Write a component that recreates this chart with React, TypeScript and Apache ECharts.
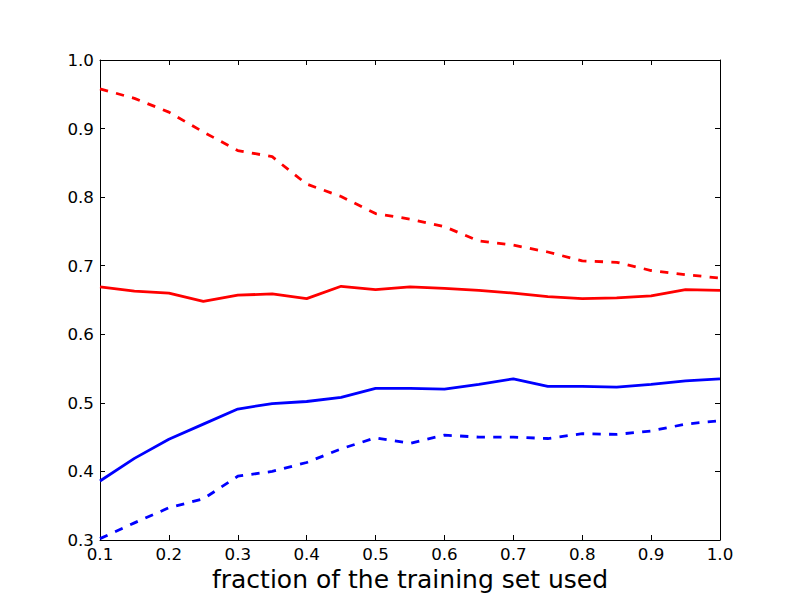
import React, { useEffect, useRef } from "react";
import * as echarts from "echarts";

const fractions = [0.1, 0.15, 0.2, 0.25, 0.3, 0.35, 0.4, 0.45, 0.5, 0.55, 0.6, 0.65, 0.7, 0.75, 0.8, 0.85, 0.9, 0.95, 1.0];
const redDashed = [0.958, 0.944, 0.924, 0.895, 0.868, 0.859, 0.819, 0.801, 0.776, 0.768, 0.757, 0.736, 0.730, 0.720, 0.707, 0.705, 0.693, 0.687, 0.682];
const redSolid = [0.669, 0.663, 0.660, 0.648, 0.657, 0.659, 0.652, 0.670, 0.665, 0.669, 0.667, 0.664, 0.660, 0.655, 0.652, 0.653, 0.656, 0.665, 0.664];
const blueSolid = [0.386, 0.419, 0.447, 0.469, 0.491, 0.499, 0.502, 0.508, 0.521, 0.521, 0.520, 0.527, 0.535, 0.524, 0.524, 0.523, 0.527, 0.532, 0.535];
const blueDashed = [0.302, 0.325, 0.347, 0.360, 0.393, 0.400, 0.413, 0.433, 0.449, 0.441, 0.453, 0.450, 0.450, 0.448, 0.455, 0.454, 0.459, 0.469, 0.474];
const xLabel = "fraction of the training set used";

const FONT = "DejaVu Sans";

function pairs(values: number[]) {
  return fractions.map((f, i) => [f, values[i]]);
}

export default function App() {
  const ref = useRef<HTMLDivElement>(null);
  useEffect(() => {
    document.body.style.margin = "0";
    const chart = echarts.init(ref.current!, undefined, { renderer: "svg" });
    const tickStyle = { show: true, inside: true, length: 5, lineStyle: { color: "#000", width: 1 } };
    const lineAxis = { show: true, lineStyle: { color: "#000", width: 1 } };
    const labelStyle = { fontFamily: FONT, fontSize: 16.7, color: "#000" };
    const fmt = (v: number) => v.toFixed(1);
    const mk = (name: string, data: number[], color: string, dashed: boolean) => ({
      name,
      type: "line",
      data: pairs(data),
      showSymbol: false,
      symbol: "none",
      lineStyle: { color, width: 2.8, type: dashed ? [8.3, 8.3] : "solid" },
      xAxisIndex: 0,
      yAxisIndex: 0,
      z: 3,
    });
    chart.setOption({
      animation: false,
      backgroundColor: "#fff",
      grid: { left: 100, right: 80, top: 60, bottom: 60, containLabel: false },
      xAxis: [
        {
          type: "value",
          min: 0.1,
          max: 1.0,
          interval: 0.1,
          position: "bottom",
          axisLine: lineAxis,
          axisTick: tickStyle,
          splitLine: { show: false },
          axisLabel: { ...labelStyle, margin: 5, formatter: fmt },
          name: xLabel,
          nameLocation: "middle",
          nameGap: 27,
          nameTextStyle: { fontFamily: FONT, fontSize: 25, color: "#000" },
        },
        {
          type: "value",
          min: 0.1,
          max: 1.0,
          interval: 0.1,
          position: "top",
          axisLine: lineAxis,
          axisTick: tickStyle,
          splitLine: { show: false },
          axisLabel: { show: false },
        },
      ],
      yAxis: [
        {
          type: "value",
          min: 0.3,
          max: 1.0,
          interval: 0.1,
          position: "left",
          axisLine: lineAxis,
          axisTick: tickStyle,
          splitLine: { show: false },
          axisLabel: { ...labelStyle, margin: 6, formatter: fmt },
        },
        {
          type: "value",
          min: 0.3,
          max: 1.0,
          interval: 0.1,
          position: "right",
          axisLine: lineAxis,
          axisTick: tickStyle,
          splitLine: { show: false },
          axisLabel: { show: false },
        },
      ],
      series: [
        mk("red dashed", redDashed, "#ff0000", true),
        mk("red solid", redSolid, "#ff0000", false),
        mk("blue solid", blueSolid, "#0000ff", false),
        mk("blue dashed", blueDashed, "#0000ff", true),
      ],
    });
    return () => chart.dispose();
  }, []);
  return <div ref={ref} style={{ width: 800, height: 600 }} />;
}
